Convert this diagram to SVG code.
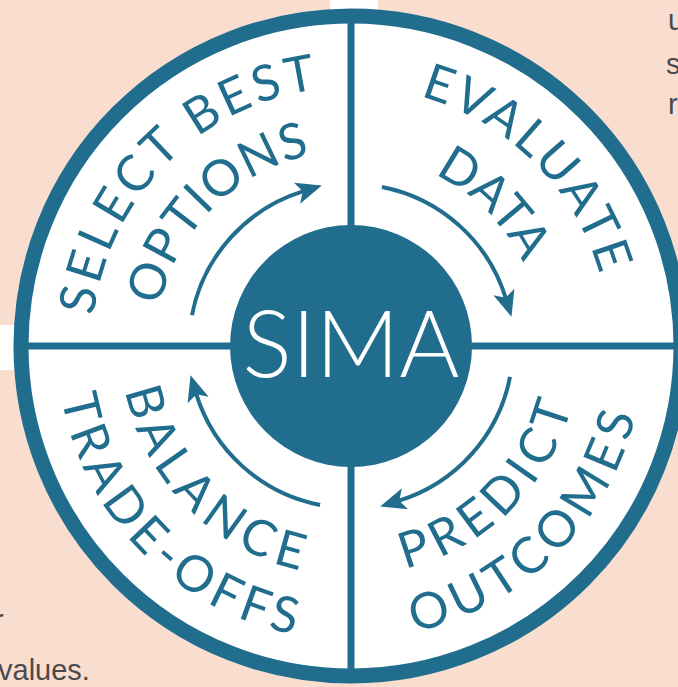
<svg xmlns="http://www.w3.org/2000/svg" width="678" height="687" viewBox="0 0 678 687">
<style>
.lbl{font-family:Lato,"Open Sans","Liberation Sans",sans-serif;font-size:50px;fill:#216d8d;}
.side{font-family:"Liberation Sans",Arial,sans-serif;font-size:29px;fill:#4a4a4a;}
.arrow{fill:none;stroke:#216d8d;stroke-width:4;marker-end:url(#ah);}
.div{stroke:#216d8d;stroke-width:7;}
</style>
<defs>
<marker id="ah" markerUnits="userSpaceOnUse" markerWidth="26" markerHeight="22" viewBox="0 0 26 22" refX="7" refY="11" orient="auto"><path d="M0,0 L26,11 L0,22 L6,11 z" fill="#216d8d"/></marker>
<path id="pTLo" d="M95.93,390.98 A259,259 0 0 1 395.98,90.93"/>
<path id="pTLi" d="M158.96,379.86 A195,195 0 0 1 384.86,153.96"/>
<path id="pTRo" d="M306.02,90.93 A259,259 0 0 1 606.07,390.98"/>
<path id="pTRi" d="M317.84,157.90 A191,191 0 0 1 539.10,379.16"/>
<path id="pBRi" d="M311.25,571.52 A229,229 0 0 0 576.52,306.25"/>
<path id="pBRo" d="M300.13,634.55 A293,293 0 0 0 639.55,295.13"/>
<path id="pBLi" d="M124.50,306.07 A230,230 0 0 0 390.93,572.50"/>
<path id="pBLo" d="M61.47,294.96 A294,294 0 0 0 402.04,635.53"/>
</defs>
<rect width="678" height="687" fill="#f9decf"/>
<rect x="330" y="0" width="48" height="20" fill="#ffffff"/>
<rect x="0" y="325" width="60" height="45" fill="#ffffff"/>
<text class="side" x="668" y="30">u</text>
<text class="side" x="666" y="74">s</text>
<text class="side" x="668" y="114">r</text>
<text class="side" x="-6" y="630">r</text>
<text class="side" x="-2" y="680">values.</text>
<g id="wheel">
<circle cx="351" cy="346" r="330" fill="#ffffff" stroke="#216d8d" stroke-width="15"/>
</g>
<g id="connectors">
<line class="div" x1="351" y1="16" x2="351" y2="676"/>
<line class="div" x1="21" y1="346" x2="681" y2="346"/>
<path class="arrow" d="M191.98,315.09 A162,162 0 0 1 303.64,191.08"/>
<path class="arrow" d="M381.91,186.98 A162,162 0 0 1 505.92,298.64"/>
<path class="arrow" d="M510.02,376.91 A162,162 0 0 1 398.36,500.92"/>
<path class="arrow" d="M320.09,505.02 A162,162 0 0 1 196.08,393.36"/>
</g>
<g id="sima">
<circle cx="351" cy="346" r="121" fill="#216d8d"/>
<text x="351" y="377" text-anchor="middle" font-family="Lato,'Open Sans','Liberation Sans',sans-serif" font-weight="300" font-size="92" fill="#ffffff">SIMA</text>
</g>
<g id="select-best-options">
<text class="lbl" text-anchor="middle" letter-spacing="4"><textPath href="#pTLo" startOffset="50%">SELECT BEST</textPath></text>
<text class="lbl" text-anchor="middle" letter-spacing="1"><textPath href="#pTLi" startOffset="50%">OPTIONS</textPath></text>
</g>
<g id="evaluate-data">
<text class="lbl" text-anchor="middle" letter-spacing="3"><textPath href="#pTRo" startOffset="50%">EVALUATE</textPath></text>
<text class="lbl" text-anchor="middle" letter-spacing="0"><textPath href="#pTRi" startOffset="50%">DATA</textPath></text>
</g>
<g id="predict-outcomes">
<text class="lbl" text-anchor="middle" letter-spacing="6.5"><textPath href="#pBRi" startOffset="50%">PREDICT</textPath></text>
<text class="lbl" text-anchor="middle" letter-spacing="6.5"><textPath href="#pBRo" startOffset="50%">OUTCOMES</textPath></text>
</g>
<g id="balance-trade-offs">
<text class="lbl" text-anchor="middle" letter-spacing="6.5"><textPath href="#pBLi" startOffset="50%">BALANCE</textPath></text>
<text class="lbl" text-anchor="middle" letter-spacing="5.5"><textPath href="#pBLo" startOffset="50%">TRADE-OFFS</textPath></text>
</g>
</svg>
